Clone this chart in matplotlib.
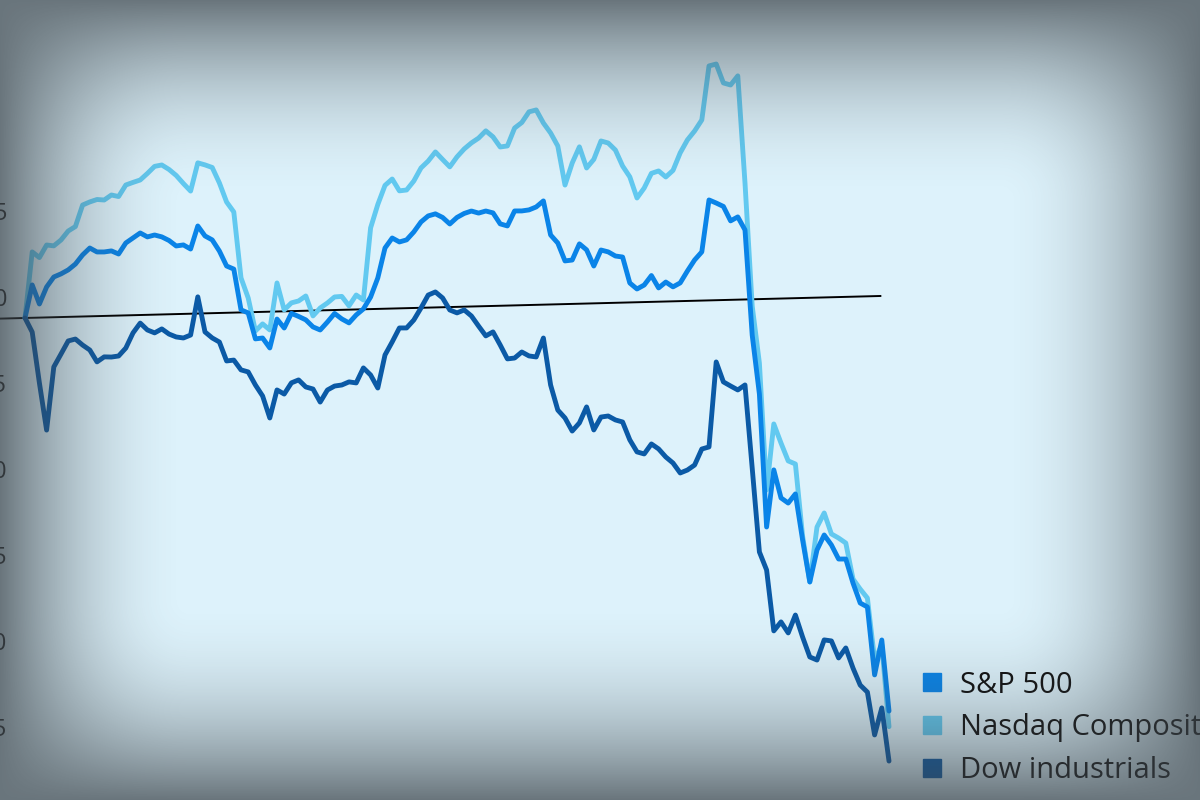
import numpy as np
import matplotlib
matplotlib.use("Agg")
import matplotlib.pyplot as plt
import matplotlib.transforms as mtransforms
from matplotlib.lines import Line2D

plt.rcParams['font.family'] = ['Open Sans', 'DejaVu Sans']

# ---- data (percent change since start of period) ----
series_names = ["S&P 500", "Nasdaq Composite", "Dow industrials"]

sp500 = [0, 1.91, 0.79, 1.77, 2.34, 2.51, 2.73, 3.06, 3.58, 3.97,
         3.73, 3.72, 3.77, 3.58, 4.21, 4.49, 4.77, 4.53, 4.63, 4.51,
         4.29, 3.96, 4.01, 3.76, 5.09, 4.50, 4.26, 3.60, 2.72, 2.53,
         0.15, -0.04, -1.56, -1.52, -2.11, -0.44, -0.97, -0.13, -0.32, -0.53,
         -0.95, -1.14, -0.69, -0.20, -0.53, -0.77, -0.32, 0.02, 0.70, 1.80,
         3.53, 4.10, 3.86, 3.97, 4.42, 4.99, 5.33, 5.44, 5.22, 4.83,
         5.20, 5.42, 5.55, 5.42, 5.53, 5.41, 4.76, 4.63, 5.49, 5.48,
         5.53, 5.69, 6.03, 4.04, 3.56, 2.51, 2.55, 3.48, 3.12, 2.17,
         3.09, 2.97, 2.72, 2.65, 1.13, 0.77, 0.99, 1.53, 0.80, 1.13,
         0.84, 1.06, 1.74, 2.37, 2.83, 5.84, 5.65, 5.44, 4.59, 4.81,
         4.04, -2.08, -5.52, -13.26, -9.95, -11.59, -11.90, -11.38, -14.07, -16.52,
         -14.67, -13.81, -14.40, -15.23, -15.24, -16.65, -17.82, -18.06, -22.02, -20.00,
         -24.14]

nasdaq = [0, 3.83, 3.49, 4.21, 4.15, 4.48, 4.99, 5.24, 6.48, 6.65,
          6.78, 6.74, 7.02, 6.92, 7.58, 7.72, 7.85, 8.22, 8.62, 8.69,
          8.42, 8.06, 7.58, 7.13, 8.76, 8.63, 8.47, 7.56, 6.44, 5.85,
          2.01, 0.83, -1.10, -0.70, -1.06, 1.66, 0.08, 0.48, 0.58, 0.86,
          -0.31, 0.14, 0.42, 0.76, 0.78, 0.22, 0.84, 0.54, 4.72, 6.07,
          7.17, 7.53, 6.83, 6.87, 7.38, 8.13, 8.52, 9.04, 8.59, 8.15,
          8.72, 9.17, 9.51, 9.78, 10.19, 9.83, 9.23, 9.28, 10.31, 10.62,
          11.23, 11.33, 10.56, 9.97, 9.20, 6.92, 8.19, 9.12, 7.88, 8.37,
          9.43, 9.30, 8.88, 7.94, 7.30, 6.06, 6.63, 7.47, 7.60, 7.24,
          7.61, 8.62, 9.36, 9.87, 10.50, 13.63, 13.73, 12.62, 12.49, 13.01,
          6.77, -0.39, -3.72, -11.11, -7.28, -8.40, -9.45, -9.64, -13.84, -16.52,
          -13.34, -12.53, -13.76, -14.01, -14.31, -16.41, -17.01, -17.54, -21.15, -20.29,
          -25.05]

dow = [0, -0.83, -3.80, -6.55, -2.89, -2.15, -1.40, -1.30, -1.66, -1.96,
       -2.66, -2.38, -2.40, -2.35, -1.90, -1.03, -0.47, -0.88, -1.06, -0.84,
       -1.15, -1.33, -1.40, -1.24, 0.97, -1.08, -1.44, -1.69, -2.80, -2.76,
       -3.34, -3.47, -4.24, -4.89, -6.18, -4.56, -4.81, -4.17, -4.01, -4.43,
       -4.56, -5.33, -4.64, -4.42, -4.37, -4.20, -4.27, -3.41, -3.83, -4.60,
       -2.69, -1.94, -1.14, -1.15, -0.70, -0.01, 0.73, 0.90, 0.54, -0.17,
       -0.35, -0.19, -0.55, -1.15, -1.73, -1.51, -2.28, -3.10, -3.06, -2.72,
       -2.96, -3.03, -1.94, -4.68, -6.15, -6.62, -7.39, -6.93, -6.01, -7.36,
       -6.62, -6.57, -6.81, -6.94, -7.99, -8.70, -8.83, -8.26, -8.56, -9.04,
       -9.40, -9.99, -9.83, -9.55, -8.63, -8.52, -3.59, -4.76, -5.01, -5.25,
       -4.97, -9.81, -14.70, -15.76, -19.31, -18.80, -19.45, -18.42, -19.71, -20.88,
       -21.07, -19.91, -19.98, -20.98, -20.41, -21.59, -22.59, -23.01, -25.51, -23.95,
       -27.05]

ytick_values = [5, 0, -5, -10, -15, -20, -25]

# ---- style ----
colors = {"S&P 500": "#0a84e8", "Nasdaq Composite": "#62c9f0", "Dow industrials": "#0b5aa6"}
bg_color = "#ddf2fb"

fig = plt.figure(figsize=(12, 8), dpi=100)
fig.patch.set_facecolor(bg_color)
ax = fig.add_axes([25 / 1200, 20 / 800, 864 / 1200, 740 / 800])
ax.set_facecolor("none")
for s in ax.spines.values():
    s.set_visible(False)
ax.set_xticks([])
ax.set_yticks([])

days = np.arange(len(sp500))
ax.set_xlim(0, len(sp500) - 1)
ax.set_ylim(-26.86, 16.16)

# slight perspective tilt of the photographed chart
tilt = mtransforms.Affine2D().skew(0, np.arctan(0.01076)) + ax.transData

x0, x1 = ax.get_xlim()
ax.plot([x0 - 3.5, x1 - 1.2], [0, 0], color="black", lw=1.4, transform=tilt,
        clip_on=False, zorder=1)

series = {"S&P 500": sp500, "Nasdaq Composite": nasdaq, "Dow industrials": dow}
for name, z in [("Nasdaq Composite", 2), ("S&P 500", 3), ("Dow industrials", 4)]:
    ax.plot(days, series[name], color=colors[name], lw=3.5, transform=tilt,
            solid_joinstyle="round", solid_capstyle="round", clip_on=False, zorder=z)

# y tick labels (partly cut at the left edge, as in the reference)
lbl_tr = mtransforms.blended_transform_factory(ax.transAxes, ax.transData) + \
    mtransforms.ScaledTranslation(-0.18, 0.18, fig.dpi_scale_trans)
for v in ytick_values:
    txt = str(v) if v >= 0 else "\u2212" + str(-v)
    ax.text(0, v, txt, transform=lbl_tr, ha="right", va="center",
            fontsize=17, color="#1a1a1a", clip_on=False)

handles = [Line2D([], [], marker="s", ls="none", color=colors[n], markersize=13)
           for n in series_names]
ax.legend(handles, series_names, loc="upper left",
          bbox_to_anchor=(903 / 1200, 1 - 656 / 800), bbox_transform=fig.transFigure,
          frameon=False, fontsize=21, handletextpad=0.45, labelspacing=0.47,
          borderpad=0, handlelength=1.0, labelcolor="#111111")

# vignette of the photographed screen (darkening toward each edge)
H, W = 800, 1200
yy, xx = np.mgrid[0:H, 0:W].astype(float)
def edge_fall(dist, width):
    t = np.clip(dist / width, 0, 1)
    return (1 - t) ** 2
a_left = edge_fall(xx, 190)
a_right = edge_fall(W - 1 - xx, 200)
a_top = edge_fall(yy, 200)
a_bot = edge_fall(H - 1 - yy, 200)
f = 1 - (1 - a_left) * (1 - a_right) * (1 - a_top) * (1 - a_bot)
rgba = np.zeros((H, W, 4))
rgba[..., 0] = 60 / 255
rgba[..., 1] = 68 / 255
rgba[..., 2] = 74 / 255
rgba[..., 3] = 0.72 * f
ov = fig.add_axes([0, 0, 1, 1], zorder=20)
ov.imshow(rgba, extent=(0, 1, 0, 1), aspect="auto", interpolation="bilinear", origin="upper")
ov.axis("off")

fig.savefig("out.png", dpi=100)
